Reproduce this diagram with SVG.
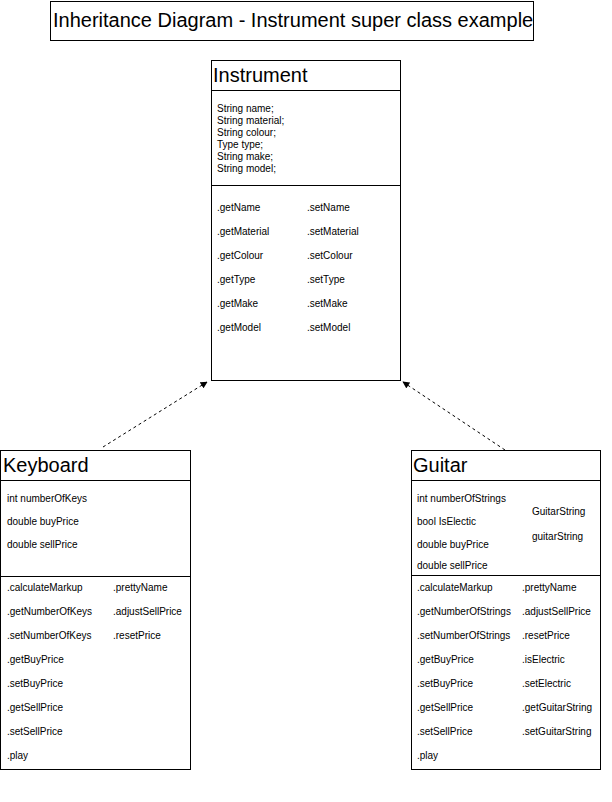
<svg xmlns="http://www.w3.org/2000/svg" width="612" height="802" viewBox="0 0 612 802">
<style>
.box{fill:#fff;stroke:#000;stroke-width:1}
.div{stroke:#000;stroke-width:1}
.t{font-family:"Liberation Sans",Arial,sans-serif;font-size:10px;fill:#000;dominant-baseline:central}
.h{font-family:"Liberation Sans",Arial,sans-serif;font-size:20px;fill:#000}
.c{stroke:#000;stroke-width:1;stroke-dasharray:3 3;fill:none}
</style>
<defs>
<marker id="ah" viewBox="0 0 10 10" refX="9" refY="5" markerWidth="7" markerHeight="7" orient="auto" markerUnits="userSpaceOnUse">
<path d="M0,0 L10,5 L0,10 z" fill="#000"/>
</marker>
</defs>
<rect width="612" height="802" fill="#fff"/>
<g id="title">
<rect class="box" x="50.5" y="1.5" width="483" height="39"/>
<text class="h" x="53" y="27">Inheritance Diagram - Instrument super class example</text>
</g>
<g id="connectors">
<line class="c" x1="103" y1="447" x2="207" y2="382" marker-end="url(#ah)"/>
<line class="c" x1="505" y1="450" x2="403" y2="382" marker-end="url(#ah)"/>
</g>
<g id="instrument">
<rect class="box" x="211.5" y="60.5" width="189" height="320"/>
<line class="div" x1="211.5" y1="90.5" x2="401" y2="90.5"/>
<line class="div" x1="211.5" y1="185.5" x2="400.5" y2="185.5"/>
<text class="h" x="213" y="82">Instrument</text>
<text class="t" x="217" y="108">String name;</text>
<text class="t" x="217" y="120">String material;</text>
<text class="t" x="217" y="132">String colour;</text>
<text class="t" x="217" y="144">Type type;</text>
<text class="t" x="217" y="156">String make;</text>
<text class="t" x="217" y="168">String model;</text>
<text class="t" x="217" y="207">.getName</text>
<text class="t" x="217" y="231">.getMaterial</text>
<text class="t" x="217" y="255">.getColour</text>
<text class="t" x="217" y="279">.getType</text>
<text class="t" x="217" y="303">.getMake</text>
<text class="t" x="217" y="327">.getModel</text>
<text class="t" x="307" y="207">.setName</text>
<text class="t" x="307" y="231">.setMaterial</text>
<text class="t" x="307" y="255">.setColour</text>
<text class="t" x="307" y="279">.setType</text>
<text class="t" x="307" y="303">.setMake</text>
<text class="t" x="307" y="327">.setModel</text>
</g>
<g id="keyboard">
<rect class="box" x="0.5" y="450.5" width="190" height="319"/>
<line class="div" x1="0.5" y1="480.5" x2="191" y2="480.5"/>
<line class="div" x1="0.5" y1="576.5" x2="190.5" y2="576.5"/>
<text class="h" x="3" y="472">Keyboard</text>
<text class="t" x="7" y="498">int numberOfKeys</text>
<text class="t" x="7" y="521">double buyPrice</text>
<text class="t" x="7" y="544">double sellPrice</text>
<text class="t" x="7" y="587">.calculateMarkup</text>
<text class="t" x="7" y="611">.getNumberOfKeys</text>
<text class="t" x="7" y="635">.setNumberOfKeys</text>
<text class="t" x="7" y="659">.getBuyPrice</text>
<text class="t" x="7" y="683">.setBuyPrice</text>
<text class="t" x="7" y="707">.getSellPrice</text>
<text class="t" x="7" y="731">.setSellPrice</text>
<text class="t" x="7" y="755">.play</text>
<text class="t" x="113" y="587">.prettyName</text>
<text class="t" x="113" y="611">.adjustSellPrice</text>
<text class="t" x="113" y="635">.resetPrice</text>
</g>
<g id="guitar">
<rect class="box" x="411.5" y="450.5" width="189" height="319"/>
<line class="div" x1="411.5" y1="480.5" x2="601" y2="480.5"/>
<line class="div" x1="411.5" y1="575.5" x2="600.5" y2="575.5"/>
<text class="h" x="413" y="472">Guitar</text>
<text class="t" x="417" y="498">int numberOfStrings</text>
<text class="t" x="417" y="521">bool IsElectic</text>
<text class="t" x="417" y="544">double buyPrice</text>
<text class="t" x="417" y="565">double sellPrice</text>
<text class="t" x="532" y="511">GuitarString</text>
<text class="t" x="532" y="536">guitarString</text>
<text class="t" x="417" y="587">.calculateMarkup</text>
<text class="t" x="417" y="611">.getNumberOfStrings</text>
<text class="t" x="417" y="635">.setNumberOfStrings</text>
<text class="t" x="417" y="659">.getBuyPrice</text>
<text class="t" x="417" y="683">.setBuyPrice</text>
<text class="t" x="417" y="707">.getSellPrice</text>
<text class="t" x="417" y="731">.setSellPrice</text>
<text class="t" x="417" y="755">.play</text>
<text class="t" x="522" y="587">.prettyName</text>
<text class="t" x="522" y="611">.adjustSellPrice</text>
<text class="t" x="522" y="635">.resetPrice</text>
<text class="t" x="522" y="659">.isElectric</text>
<text class="t" x="522" y="683">.setElectric</text>
<text class="t" x="522" y="707">.getGuitarString</text>
<text class="t" x="522" y="731">.setGuitarString</text>
</g>
</svg>
